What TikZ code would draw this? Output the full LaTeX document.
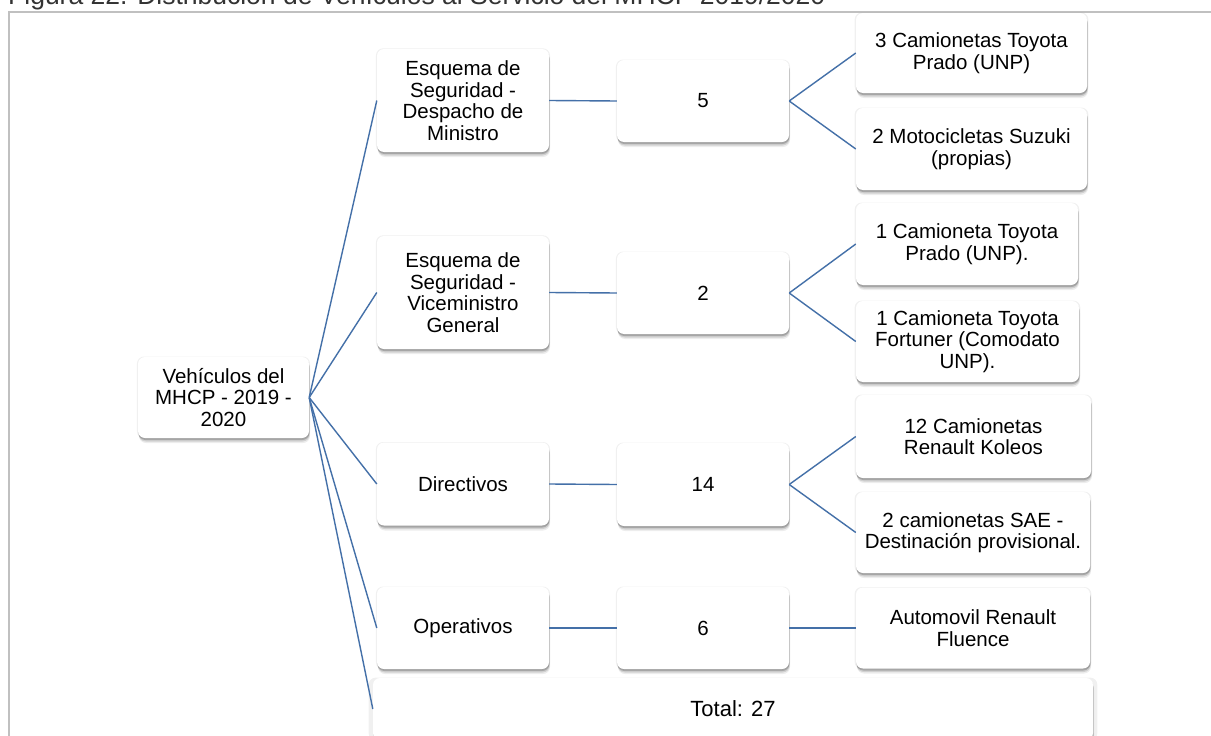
\documentclass[tikz,border=0pt]{standalone}
\usepackage{fontspec}
\setmainfont{Liberation Sans}
\usetikzlibrary{shadows}
\definecolor{linkblue}{HTML}{4470A8}
\definecolor{framegray}{HTML}{C0C0C0}
\newcommand\bxfont{\fontsize{20.5}{21.6}\selectfont}
\tikzset{
  box/.style={rectangle, rounded corners=7pt, fill=white, draw=none, align=center,
    font=\bxfont, inner sep=0pt,
    drop shadow={shadow xshift=1pt, shadow yshift=-5pt, opacity=0.07, fill=black},
    drop shadow={shadow xshift=0.7pt, shadow yshift=-3.5pt, opacity=0.12, fill=black},
    drop shadow={shadow xshift=0.4pt, shadow yshift=-2pt, opacity=0.2, fill=black},
    drop shadow={shadow xshift=0pt, shadow yshift=0pt, opacity=0.06, fill=black, shadow scale=1.012}},
  link/.style={draw=linkblue, line width=1.4pt},
  frame/.style={draw=framegray, line width=2pt},
}
\begin{document}
\begin{tikzpicture}[x=1pt, y=-1pt]
\useasboundingbox (0,0) rectangle (1211,736);
\clip (0,0) rectangle (1211,736);
\fill[white] (0,0) rectangle (1211,736);
% caption (clipped at top, as in the reference)
\node[anchor=base west, inner sep=0pt, font=\fontsize{26.5}{30}\selectfont, text=black!80] (cap) at (8,5)
  {Figura 22. Distribución de Vehículos al Servicio del MHCP 2019/2020};
% frame
\coordinate (f1) at (9,760);
\coordinate (f2) at (9,11.5);
\coordinate (f3) at (1220,11.5);
\draw[frame] (f1) -- (f2) -- (f3);
% root
\node[box, minimum width=171pt, minimum height=81pt] (root) at (223.5,397.5) {Vehículos del\\MHCP - 2019 -\\2020};
% level 1
\node[box, minimum width=172pt, minimum height=103pt] (l1a) at (463,100.5) {Esquema de\\Seguridad -\\Despacho de\\Ministro};
\node[box, minimum width=172pt, minimum height=113pt] (l1b) at (463,292.5) {Esquema de\\Seguridad -\\Viceministro\\General};
\node[box, minimum width=172pt, minimum height=83pt] (l1c) at (463,484) {Directivos};
\node[box, minimum width=172pt, minimum height=82pt] (l1d) at (463,628) {Operativos};
% level 2
\node[box, minimum width=172pt, minimum height=82pt] (l2a) at (703,101) {5};
\node[box, minimum width=172pt, minimum height=82pt] (l2b) at (703,293) {2};
\node[box, minimum width=172pt, minimum height=83pt] (l2c) at (703,484.5) {14};
\node[box, minimum width=172pt, minimum height=82pt] (l2d) at (703,628) {6};
% level 3
\node[box, minimum width=231pt, minimum height=80pt] (l3a) at (971.5,53) {3 Camionetas Toyota\\Prado (UNP)};
\node[box, minimum width=231pt, minimum height=82pt] (l3b) at (971.5,149) {2 Motocicletas Suzuki\\(propias)};
\node[box, minimum width=222pt, minimum height=82pt] (l3c) at (967,244) {1 Camioneta Toyota\\Prado (UNP).};
\node[box, minimum width=223pt, minimum height=81pt] (l3d) at (967.5,341.5) {1 Camioneta Toyota\\Fortuner (Comodato\\UNP).};
\node[box, minimum width=235pt, minimum height=83pt] (l3e) at (973.5,436.5) {12 Camionetas\\Renault Koleos};
\node[box, minimum width=234pt, minimum height=81pt] (l3f) at (973,532.5) {2 camionetas SAE -\\Destinación provisional.};
\node[box, minimum width=234pt, minimum height=81pt] (l3g) at (973,628) {Automovil Renault\\Fluence};
% total
\node[box, minimum width=720pt, minimum height=62pt, font=\fontsize{22}{24}\selectfont] (tot) at (733,709) {Total: 27};
% connectors
\draw[link] (root.east) -- (l1a.west);
\draw[link] (root.east) -- (l1b.west);
\draw[link] (root.east) -- (l1c.west);
\draw[link] (root.east) -- (l1d.west);
\draw[link] (root.east) -- (tot.west);
\draw[link] (l1a.east) -- (l2a.west);
\draw[link] (l1b.east) -- (l2b.west);
\draw[link] (l1c.east) -- (l2c.west);
\draw[link] (l1d.east) -- (l2d.west);
\draw[link] (l2a.east) -- (l3a.west);
\draw[link] (l2a.east) -- (l3b.west);
\draw[link] (l2b.east) -- (l3c.west);
\draw[link] (l2b.east) -- (l3d.west);
\draw[link] (l2c.east) -- (l3e.west);
\draw[link] (l2c.east) -- (l3f.west);
\draw[link] (l2d.east) -- (l3g.west);
\end{tikzpicture}
\end{document}
